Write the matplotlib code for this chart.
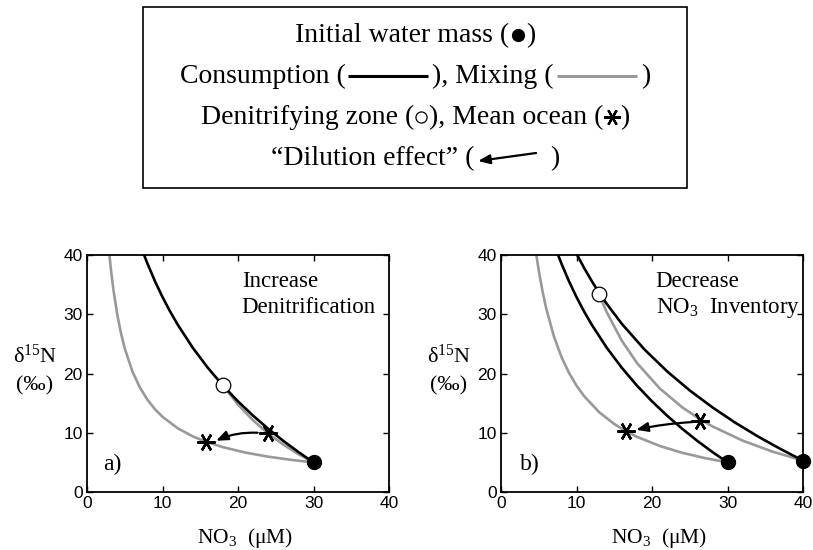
import matplotlib
matplotlib.use('Agg')
import matplotlib.pyplot as plt
from matplotlib.patches import Rectangle, FancyArrowPatch
from matplotlib.lines import Line2D

plt.rcParams['font.family'] = ['Liberation Sans', 'DejaVu Sans']
plt.rcParams['mathtext.fontset'] = 'custom'
plt.rcParams['mathtext.rm'] = 'Liberation Serif'
plt.rcParams['mathtext.it'] = 'Liberation Serif:italic'
plt.rcParams['mathtext.bf'] = 'Liberation Serif:bold'
SERIF = ['Liberation Serif', 'DejaVu Serif']

# ---------------- data ----------------
# panel a
a_cons_x = [30, 28, 26, 24, 22, 20, 18, 16, 14, 12, 11, 10, 9, 8, 7.5]
a_cons_y = [5.0, 6.75, 8.63, 10.67, 12.88, 15.30, 17.97, 20.97, 24.36, 28.27, 30.48, 32.90, 35.58, 38.57, 40.21]
a_mixdz_x = [30, 28, 26, 24, 22, 20, 18]
a_mixdz_y = [5.0, 6.39, 8.0, 9.88, 12.09, 14.75, 18.0]
a_mix_x = [30, 27, 24, 21, 18, 15.7, 14, 12, 10, 9, 8, 7, 6, 5, 4.5, 4, 3.5, 3.2, 3.0, 2.9]
a_mix_y = [5.0, 5.43, 5.96, 6.65, 7.57, 8.50, 9.40, 10.77, 12.69, 13.98, 15.58, 17.64, 20.39, 24.23, 26.80, 30.0, 34.13, 37.2, 39.6, 40.9]
a_init_x, a_init_y = [30], [5.0]
a_dz_x, a_dz_y = [18], [18.0]
a_ocean_x, a_ocean_y = [24, 15.7], [10.0, 8.5]
a_arrow_from, a_arrow_to = (22.6, 10.0), (17.1, 8.65)

# panel b
b_cons1_x = [30, 28, 26, 24, 22, 20, 18, 16, 14, 12, 11, 10, 9, 8, 7.5]
b_cons1_y = [5.0, 6.75, 8.63, 10.67, 12.88, 15.30, 17.97, 20.97, 24.36, 28.27, 30.48, 32.90, 35.58, 38.57, 40.21]
b_cons2_x = [40, 37, 34, 31, 28, 25, 22, 19, 16, 14, 13, 12, 11, 10]
b_cons2_y = [5.3, 7.27, 9.40, 11.72, 14.29, 17.14, 20.36, 24.06, 28.39, 31.76, 33.62, 35.64, 37.83, 40.23]
b_mixdz_x = [40, 36, 32, 28, 26.4, 24, 21, 18, 16, 14, 13]
b_mixdz_y = [5.3, 6.80, 8.67, 11.08, 12.25, 14.29, 17.51, 21.79, 25.54, 30.35, 33.32]
b_mix_x = [30, 27, 24, 21, 18, 16.5, 15, 13, 11, 10, 9, 8, 7, 6, 5.5, 5, 4.8, 4.6]
b_mix_y = [5.0, 5.72, 6.62, 7.78, 9.32, 10.30, 11.48, 13.47, 16.19, 17.96, 20.12, 22.82, 26.29, 30.92, 33.87, 37.40, 39.02, 40.78]
b_init_x, b_init_y = [30, 40], [5.0, 5.3]
b_dz_x, b_dz_y = [13], [33.5]
b_ocean_x, b_ocean_y = [26.4, 16.5], [12.0, 10.3]
b_arrow_from, b_arrow_to = (25.3, 11.8), (17.9, 10.5)

ticks = [0, 10, 20, 30, 40]
panel_labels = ['a)', 'b)']
panel_text = [('Increase', 'Denitrification'), ('Decrease', 'NO$_3$  Inventory')]

GRAY = '#999999'
W, H = 813, 550
fig = plt.figure(figsize=(W / 100, H / 100), dpi=100)

STAR = (6, 2, 90)


def make_panel(left_px, lab, texts, grays, blacks, init, dz, ocean, arrow, rad, lab_x):
    ax = fig.add_axes([left_px / W, 1 - 492 / H, 302 / W, 237 / H])
    for gx, gy in grays:
        ax.plot(gx, gy, color=GRAY, lw=1.9, zorder=2, solid_capstyle='butt')
    for bx, by in blacks:
        ax.plot(bx, by, color='k', lw=1.9, zorder=3, solid_capstyle='butt')
    ax.plot(init[0], init[1], 'o', ms=10, mfc='k', mec='k', zorder=6, clip_on=False)
    ax.plot(dz[0], dz[1], 'o', ms=10.5, mfc='white', mec='k', mew=0.9, zorder=6, clip_on=False)
    ax.plot(ocean[0], ocean[1], ls='none', marker=STAR, ms=13, mec='k', mew=1.8, zorder=6)
    ax.annotate('', xy=arrow[1], xytext=arrow[0],
                arrowprops=dict(arrowstyle='-|>,head_length=0.7,head_width=0.28', color='k', lw=1.6,
                                shrinkA=0, shrinkB=0, connectionstyle='arc3,rad=%g' % rad), zorder=5)
    ax.set_xlim(0, 40)
    ax.set_ylim(0, 40)
    ax.set_xticks(ticks)
    ax.set_yticks(ticks)
    ax.tick_params(direction='in', top=True, right=True, length=4, width=1, labelsize=12.5, pad=3)
    for s in ax.spines.values():
        s.set_linewidth(1.3)
    ax.text(lab_x, 3.7, lab, family=SERIF, fontsize=17, va='baseline', ha='left')
    ax.text(20.5, 34.6, texts[0], family=SERIF, fontsize=16.5, va='baseline', ha='left')
    ax.text(20.5, 30.2, texts[1], family=SERIF, fontsize=16.5, va='baseline', ha='left')
    # axis labels
    ax.text(-0.172, 0.545, r'δ$^{15}$N', transform=ax.transAxes, family=SERIF, fontsize=16,
            ha='center', va='baseline')
    ax.text(-0.172, 0.43, '(‰)', transform=ax.transAxes, family=SERIF, fontsize=16,
            ha='center', va='baseline')
    ax.text(0.523, -0.215, 'NO$_3$  (μM)', transform=ax.transAxes, family=SERIF, fontsize=15.5,
            ha='center', va='baseline')
    return ax


make_panel(87, panel_labels[0], panel_text[0],
           [(a_mixdz_x, a_mixdz_y), (a_mix_x, a_mix_y)],
           [(a_cons_x, a_cons_y)],
           (a_init_x, a_init_y), (a_dz_x, a_dz_y), (a_ocean_x, a_ocean_y),
           (a_arrow_from, a_arrow_to), 0.12, 2.1)
make_panel(501, panel_labels[1], panel_text[1],
           [(b_mixdz_x, b_mixdz_y), (b_mix_x, b_mix_y)],
           [(b_cons1_x, b_cons1_y), (b_cons2_x, b_cons2_y)],
           (b_init_x, b_init_y), (b_dz_x, b_dz_y), (b_ocean_x, b_ocean_y),
           (b_arrow_from, b_arrow_to), 0.04, 2.5)

# ---------------- legend box ----------------
box_l, box_r, box_t, box_b = 143, 687, 7, 188
fig.add_artist(Rectangle((box_l / W, 1 - box_b / H), (box_r - box_l) / W, (box_b - box_t) / H,
                         transform=fig.transFigure, fill=False, ec='k', lw=1.2))
cx = (box_l + box_r) / 2
renderer = fig.canvas.get_renderer()
LFS = 20


def fx(px):
    return px / W


def fy(py):
    return 1 - py / H


def legend_line(items, base):
    widths, arts = [], []
    for it in items:
        if it[0] == 'text':
            t = fig.text(0, 0, it[1], family=SERIF, fontsize=LFS, va='baseline', ha='left')
            widths.append(t.get_window_extent(renderer).width)
            arts.append(t)
        else:
            widths.append(it[1])
            arts.append(None)
    x = cx - sum(widths) / 2
    ymid = base - 7
    for it, w, a in zip(items, widths, arts):
        kind = it[0]
        if kind == 'text':
            a.set_position((fx(x), fy(base)))
        elif kind == 'line':
            fig.add_artist(Line2D([fx(x), fx(x + w)], [fy(ymid), fy(ymid)], transform=fig.transFigure,
                                  color=it[2], lw=2.2, solid_capstyle='butt'))
        elif kind == 'dot':
            fig.add_artist(Line2D([fx(x + w / 2)], [fy(ymid)], transform=fig.transFigure, marker='o',
                                  ms=8.5, mfc='k', mec='k'))
        elif kind == 'circ':
            fig.add_artist(Line2D([fx(x + w / 2)], [fy(ymid)], transform=fig.transFigure, marker='o',
                                  ms=8, mfc='white', mec='k', mew=0.9))
        elif kind == 'star':
            fig.add_artist(Line2D([fx(x + w / 2)], [fy(ymid)], transform=fig.transFigure, marker=STAR,
                                  ms=12, mec='k', mew=1.6))
        elif kind == 'arrow':
            fig.add_artist(FancyArrowPatch((fx(x + w), fy(ymid - 5)), (fx(x), fy(ymid + 3)),
                                           transform=fig.transFigure,
                                           arrowstyle='-|>,head_length=0.7,head_width=0.28',
                                           mutation_scale=10, color='k', lw=1.6, shrinkA=0, shrinkB=0))
        x += w


legend_line([('text', 'Initial water mass ('), ('gap', 2), ('dot', 14), ('gap', 1), ('text', ')')], 42)
legend_line([('text', 'Consumption ('), ('gap', 2), ('line', 80, 'k'), ('gap', 4), ('text', '), Mixing ('),
             ('gap', 4), ('line', 80, GRAY), ('gap', 4), ('text', ')')], 83)
legend_line([('text', 'Denitrifying zone ('), ('gap', 1), ('circ', 13), ('gap', 1), ('text', '), Mean ocean ('),
             ('gap', 1), ('star', 15), ('gap', 1), ('text', ')')], 124)
legend_line([('text', '\u201cDilution effect\u201d ('), ('gap', 4), ('arrow', 58), ('gap', 14), ('text', ')')], 165)

fig.savefig('out.png', dpi=100)
